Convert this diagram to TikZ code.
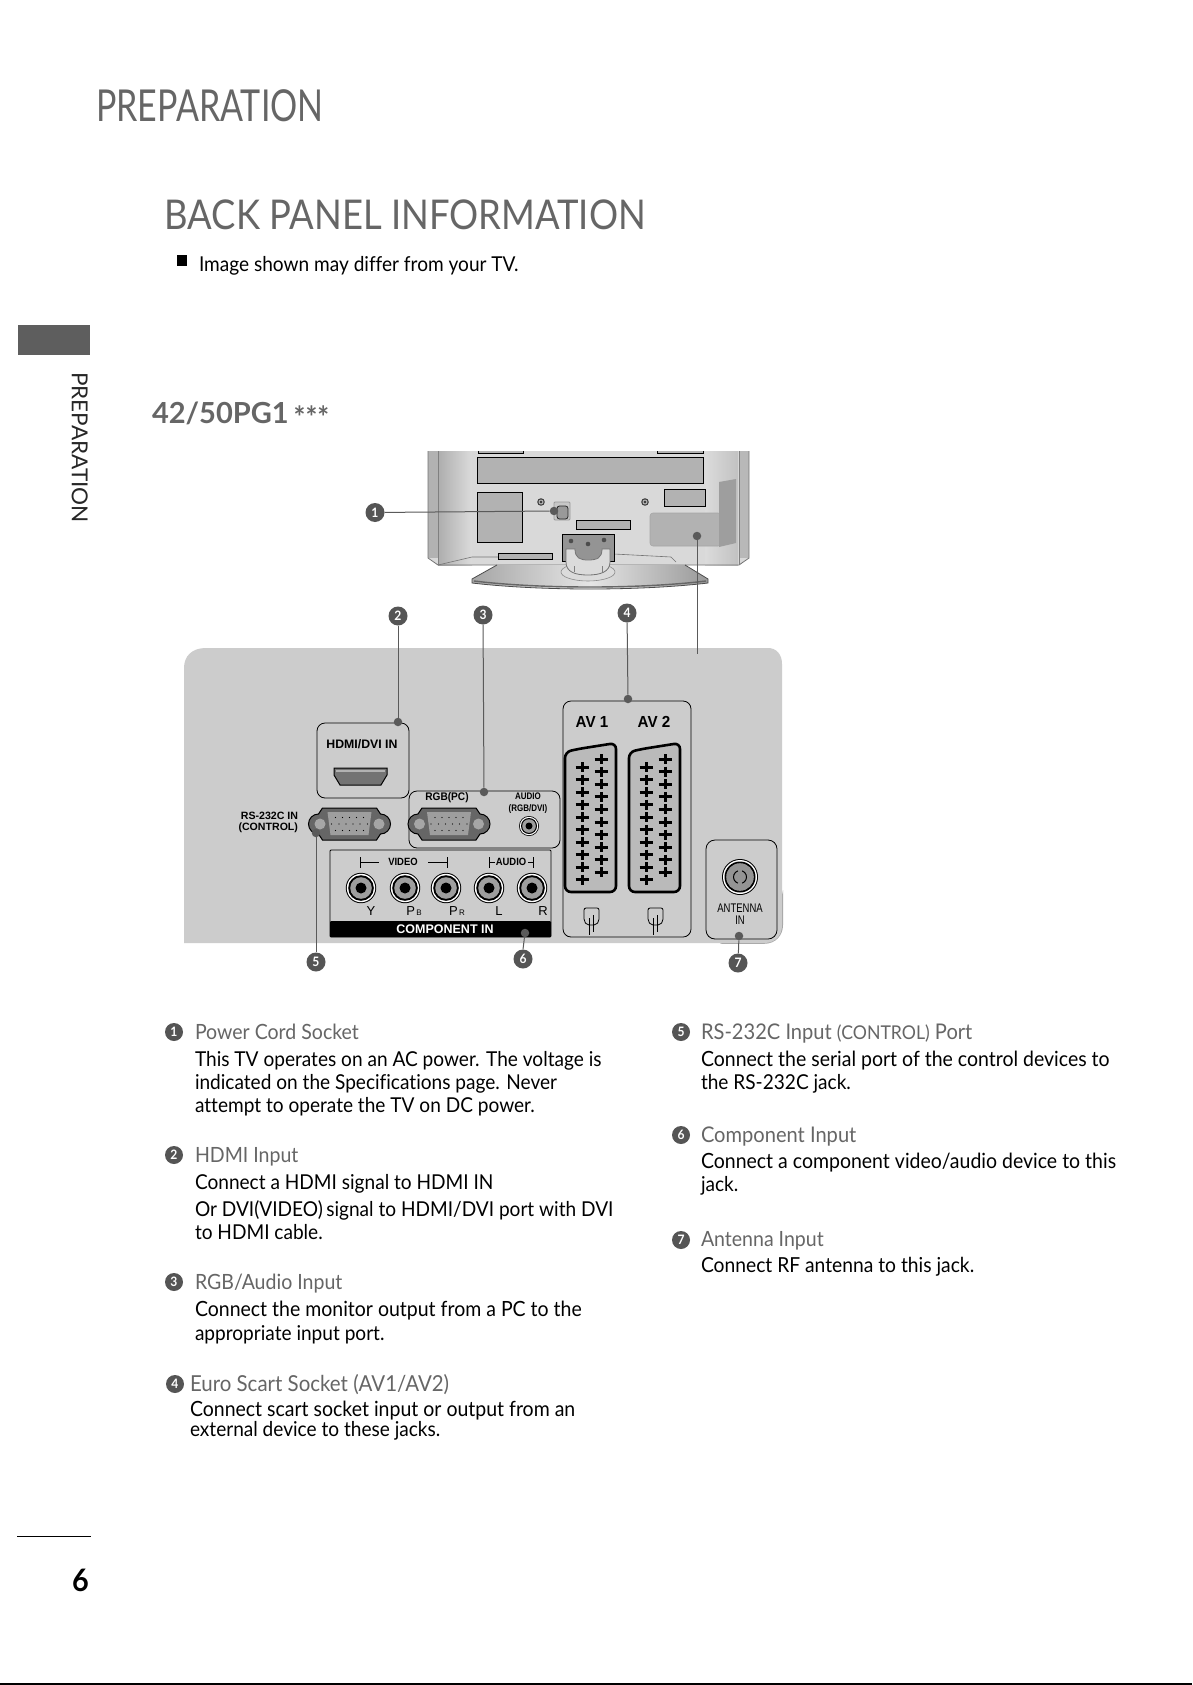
\documentclass[tikz,border=0pt]{standalone}
\usepackage{fontspec}
\usepackage{graphicx}
\setmainfont[FakeStretch=0.93,Ligatures=NoCommon]{Lato}
\newfontfamily\arialf{Liberation Sans}
\usetikzlibrary{calc}
\definecolor{panelg}{HTML}{CCCCCC}
\definecolor{headg}{HTML}{666666}
\definecolor{badgeg}{HTML}{555555}
\definecolor{leadg}{HTML}{5A5A5A}
\newcommand{\fs}[1]{\fontsize{#1}{#1}\selectfont}
\tikzset{
 x=1pt,y=-1pt,
 txt/.style={inner sep=0pt,outer sep=0pt,anchor=base west,text=black},
 bodyt/.style={txt,font=\fs{20.5}},
 bodyw/.style={txt,font=\fs{20.95}},
 headt/.style={txt,font=\fs{21},text=headg},
 headw/.style={txt,font=\fs{21.6},text=headg},
 badge/.style={circle,fill=badgeg,inner sep=0pt,minimum size=19pt,text=white,font=\fs{13}\bfseries},
 lbadge/.style={badge,minimum size=18pt},
 lead/.style={draw=leadg,line width=1pt},
 dot/.style={circle,fill=leadg,inner sep=0pt,minimum size=8.5pt},
 ptxt/.style={inner sep=0pt,outer sep=0pt,anchor=center,text=black,font=\arialf\bfseries\fs{10}},
 blk/.style={draw=black,line width=.9pt,fill=black!30},
}
\newcommand{\dbconn}[2]{%
 \begin{scope}[shift={(#1,#2)}]
 \draw[fill=black!60,line width=1pt] (-27,-16) -- (27,-16) -- (31,-10) arc (-90:90:10) -- (27,16) -- (-27,16) -- (-31,10) arc (90:270:10) -- cycle;
 \fill[black!38] (-22,-12) -- (22,-12) -- (19,11) -- (-19,11) -- cycle;
 \fill[black!35] (-29.5,0) circle (5.5pt) (29.5,0) circle (5.5pt);
 \foreach \px in {-14,-7,0,7,14} {\fill (\px,-6.5) circle (.6pt); \fill (\px,6.5) circle (.6pt);}
 \foreach \px in {-18,-10.5,-3.5,3.5,10.5,18} {\fill (\px,0) circle (.6pt);}
 \end{scope}}
\newcommand{\rcajack}[2]{%
 \fill[black] (#1,#2) circle (15.2pt);
 \fill[white] (#1,#2) circle (14.2pt);
 \fill[black] (#1,#2) circle (12.8pt);
 \fill[black!38] (#1,#2) circle (10.8pt);
 \fill[black] (#1,#2) circle (5.5pt);}
\newcommand{\scartsock}[1]{%
 \begin{scope}[xshift=#1]
 \draw[line width=2.6pt,fill=black!27,rounded corners=6pt] (565,752) -- (565,892) -- (616,892) -- (616,743) -- (578,749) -- cycle;
 \foreach \i in {0,...,9} {
  \pgfmathsetmacro{\ya}{767+12.5*\i}
  \pgfmathsetmacro{\yb}{759+12.6*\i}
  \draw[line width=3pt] (575.5,\ya) -- (588.5,\ya);
  \draw[line width=3pt] (582,\ya-5) -- (582,\ya+5);
  \draw[line width=3pt] (594.5,\yb) -- (607.5,\yb);
  \draw[line width=3pt] (601,\yb-5) -- (601,\yb+5);
 }
 \draw[line width=.8pt,fill=panelg,rounded corners=2pt] (584,908) -- (599,908) -- (599,921) -- (596,925) -- (587,925) -- (584,921) -- cycle;
 \draw[line width=1.3pt] (589.5,918) -- (589.5,935) (593.5,915) -- (593.5,932);
 \end{scope}}
\begin{document}
\begin{tikzpicture}
\useasboundingbox[fill=white] (0,0) rectangle (1192,1685);
% page furniture
\node[txt,text=headg,font=\fs{44}] (ttl) at (96,122) {\scalebox{.83}[1]{PREPARATION}};
\node[txt,text=headg,font=\fs{41}] (ttb) at (164.5,230) {\scalebox{.955}[1]{BACK PANEL INFORMATION}};
\fill[black] (177,255) rectangle (187,266);
\node[bodyt] (img) at (199,272) {Image shown may differ from your TV.};
\fill[black!63] (18,325) rectangle (90,355);
\node[inner sep=0pt,rotate=-90,anchor=north west,font=\fs{22},text=black!85] (side) at (88,372) {\scalebox{1.1}[1]{PREPARATION}};
\node[txt,text=headg,font=\fs{29}\bfseries] (mod) at (152,423) {\scalebox{1.077}[1]{42/50PG1}\,{\fs{30}\raisebox{-5pt}{***}}};
\draw[line width=1pt,black] (17,1536) -- (91,1536);
\node[txt,font=\fs{31}\bfseries] (pg) at (72,1591) {6};
\fill[black] (0,1683) rectangle (1192,1685);
% TV
\fill[black!15] (428,451) -- (749,451) -- (749,557) -- (739,565) -- (438,565) -- (428,557) -- cycle;
\shade[left color=black!32,right color=black!14] (438,451) rectangle (472,565);
\shade[left color=black!14,right color=black!24] (705,451) rectangle (738,565);
\fill[black!30] (428,451) rectangle (438,558);
\fill[black!28] (739,451) rectangle (749,558);
\draw[black!55,line width=.8pt] (428,451) -- (428,558) -- (438,565) -- (739,565) -- (749,558) -- (749,451);
\draw[black!50,line width=.6pt] (438,451) -- (438,565) (739,451) -- (739,565);
\draw[black!55,line width=.6pt] (438,565) -- (472,557) -- (552,557) (614,554) -- (671,557) -- (676,562);
\draw[black,line width=.9pt,fill=black!30] (478,451) -- (478,453) -- (523,453) -- (523,451);
\draw[black,line width=.9pt,fill=black!30] (657,451) -- (657,453) -- (703,453) -- (703,451);
\draw[blk] (477,457) rectangle (703,483);
\draw[blk] (477,492) rectangle (522,542);
\draw[blk] (664,489) rectangle (705,506);
\draw[blk] (576,520) rectangle (630,529);
\draw[blk] (498,553) rectangle (552,559);
\foreach \sx in {541,645} {\fill[black!75] (\sx,502) circle (3.8pt); \fill[black!30] (\sx,502) circle (2.5pt); \fill[black!80] (\sx,502) circle (1.3pt);}
\draw[black!40,line width=.8pt,fill=black!22,rounded corners=1pt] (554,502) rectangle (570,520);
\draw[black!85,line width=.8pt,fill=black!40,rounded corners=2.5pt] (557,506) rectangle (568,519);
\draw[black!35,line width=.6pt,fill=black!30,rounded corners=3pt] (650,513) rectangle (721,546);
\fill[black!38] (719,482) -- (736,479) -- (736,543) -- (719,547) -- cycle;
% stand
\shade[left color=black!35,right color=black!40,middle color=black!10] (497,565) -- (685,565) -- (708,579) -- (708,583) .. controls (640,591) and (540,591) .. (472,583) -- (472,579) -- cycle;
\draw[black!70,line width=.8pt] (497,565) -- (472,579) -- (472,583) .. controls (540,591) and (640,591) .. (708,583) -- (708,579) -- (685,565);
\draw[black!60,line width=1.4pt] (474,581) .. controls (540,589) and (640,589) .. (706,581);
\draw[black,line width=.9pt,fill=black!42] (562,534) rectangle (614,561);
\fill[black!70] (571,541) circle (2.3pt) (588,544) circle (2.3pt) (604,540) circle (2.3pt);
\draw[black!45,line width=.6pt,fill=black!14] (588,572) ellipse (27pt and 9pt);
\draw[black!55,line width=.8pt,fill=black!14] (566,549) -- (575,549) .. controls (575,558) and (580,560) .. (588,560) .. controls (597,560) and (602,558) .. (602,549) -- (610,549) -- (610,562) .. controls (610,572) and (600,575) .. (588,575) .. controls (575,575) and (566,572) .. (566,562) -- cycle;
\draw[black!50,line width=.6pt] (574,566) -- (574,572) (602,566) -- (602,572);
% panel
\fill[black!35] (720,943.8) -- (764,943.8) .. controls (776,943.8) and (783,935) .. (783,925) -- (783,890) -- (776,925) -- cycle;
\fill[panelg] (184,943) -- (184,668) .. controls (184,656) and (192,648) .. (206,648) -- (768,648) .. controls (776,648) and (782,654) .. (782,664) -- (782,925) .. controls (782,935) and (776,943) .. (764,943) -- cycle;
% port boxes
\node[draw=black,line width=.8pt,rounded corners=8pt,minimum width=92pt,minimum height=75pt,inner sep=0pt] (hdmi) at (363,760.5) {};
\node[draw=black,line width=.8pt,rounded corners=8pt,minimum width=151pt,minimum height=57pt,inner sep=0pt] (rgb) at (484.5,819.5) {};
\node[draw=black,line width=.8pt,rounded corners=8pt,minimum width=128pt,minimum height=236pt,inner sep=0pt] (av) at (627,819) {};
\node[draw=black,line width=.8pt,rounded corners=9pt,minimum width=71pt,minimum height=99pt,inner sep=0pt] (ant) at (741.5,889.5) {};
\node[draw=black,line width=.8pt,rounded corners=1pt,minimum width=221pt,minimum height=87pt,inner sep=0pt] (comp) at (440.5,893.5) {};
\fill[black,rounded corners=1pt] (330,921) rectangle (551,937);
\node[ptxt,text=white,font=\arialf\bfseries\fs{12.5}] (compt) at (445,929) {COMPONENT IN};
\node[ptxt] (hdmit) at (362,744) {\fs{12.3}HDMI/DVI IN};
\draw[line width=1pt,fill=black!55] (334,768) -- (387,768) -- (387,775) -- (381,785) -- (340,785) -- (334,775) -- cycle;
\fill[black!30] (336,769.5) rectangle (385,772);
\node[ptxt,align=right,anchor=east,font=\arialf\bfseries\fs{10.6}] (rst) at (298,822.5) {RS-232C IN\\[1pt](CONTROL)};
\dbconn{349.5}{824}
\dbconn{449}{824}
\node[ptxt,font=\arialf\bfseries\fs{11}] (rgbt) at (447,798) {\scalebox{.92}[1]{RGB(PC)}};
\node[ptxt,align=center,font=\arialf\bfseries\fs{9.5}] (audt) at (528,803) {\scalebox{.84}[1]{AUDIO}\\[2pt]\scalebox{.84}[1]{(RGB/DVI)}};
\fill[black] (529,826) circle (10pt); \fill[white] (529,826) circle (9.2pt); \fill[black] (529,826) circle (8pt); \fill[black!38] (529,826) circle (6.8pt); \fill[black] (529,826) circle (3.5pt);
\node[ptxt,font=\arialf\bfseries\fs{10.5}] (vid) at (403,862) {\scalebox{.9}[1]{VIDEO}};
\node[ptxt,font=\arialf\bfseries\fs{10.5}] (audc) at (511,862) {\scalebox{.9}[1]{AUDIO}};
\draw[line width=.8pt] (360,857) -- (360,868) (360,862) -- (379,862) (428,862) -- (447,862) (447,857) -- (447,868);
\draw[line width=.8pt] (489,857) -- (489,868) (489,862) -- (495,862) (528,862) -- (533,862) (533,857) -- (533,868);
\rcajack{361}{888}\rcajack{405}{888}\rcajack{446}{888}\rcajack{489}{888}\rcajack{532}{888}
\foreach \nm/\tx/\lx in {ly/Y/371,lb/{P{\fs{8}\,B}}/414,lr/{P{\fs{8}\,R}}/457,ll/L/499,lrr/R/543}
 {\node[ptxt,font=\arialf\fs{13}] (\nm) at (\lx,911) {\tx};}
\node[ptxt,font=\arialf\bfseries\fs{16}] (av1) at (592,722) {\scalebox{.95}[1]{AV 1}};
\node[ptxt,font=\arialf\bfseries\fs{16}] (av2) at (654,722) {\scalebox{.95}[1]{AV 2}};
\scartsock{0}\scartsock{64}
\fill[black] (740,877) circle (18pt); \fill[white] (740,877) circle (17pt); \fill[black] (740,877) circle (15.5pt); \fill[black!42] (740,877) circle (13.8pt);
\draw[black,line width=1pt] (740,877) ++(70:6.5) arc (70:-70:6.5);
\draw[black,line width=1pt] (740,877) ++(110:6.5) arc (110:250:6.5);
\node[ptxt,align=center,font=\arialf\fs{12.5}] (antt) at (740,914) {\scalebox{.76}[1]{ANTENNA}\\\scalebox{.76}[1]{IN}};
% numbered leaders
\node[badge] (n1) at (375,512.5) {1};
\node[badge] (n2) at (398,616) {2};
\node[badge] (n3) at (483,615) {3};
\node[badge] (n4) at (627,613) {4};
\node[badge] (n5) at (316,962) {5};
\node[badge] (n6) at (523,959) {6};
\node[badge] (n7) at (738,963) {7};
\node[dot] (d1) at (554,511) {};
\node[dot] (d2) at (398,722) {};
\node[dot] (d3) at (484,792) {};
\node[dot] (d4) at (628,699) {};
\node[dot] (d5) at (316,833) {};
\node[dot] (d6) at (525,933) {};
\node[dot] (d7) at (739,936) {};
\node[dot] (dp) at (697,536) {};
\coordinate (pe) at (697,654);
\draw[lead] (n1) -- (d1);
\draw[lead] (n2) -- (d2);
\draw[lead] (n3) -- (d3);
\draw[lead] (n4) -- (d4);
\draw[lead] (n5) -- (d5);
\draw[lead] (n6.north) -- (d6);
\draw[lead] (n7) -- (d7);
\draw[lead] (dp) -- (pe);
% left list
\node[lbadge] (l1) at (174,1032) {1};
\node[headt] (h1) at (195,1039) {Power Cord Socket};
\node[bodyt] (b1a) at (195,1066) {This TV operates on an AC power. The voltage is};
\node[bodyt] (b1b) at (195,1089) {indicated on the Specifications page. Never};
\node[bodyt] (b1c) at (195,1112) {attempt to operate the TV on DC power.};
\node[lbadge] (l2) at (174,1155) {2};
\node[headt] (h2) at (195,1162) {HDMI Input};
\node[bodyt] (b2a) at (195,1189) {Connect a HDMI signal to HDMI IN};
\node[bodyt] (b2b) at (195,1216.5) {Or DVI(VIDEO)\,signal to HDMI/DVI port with DVI};
\node[bodyt] (b2c) at (195,1239) {to HDMI cable.};
\node[lbadge] (l3) at (174,1282) {3};
\node[headt] (h3) at (195,1289) {RGB/Audio Input};
\node[bodyw] (b3a) at (195,1316) {Connect the monitor output from a PC to the};
\node[bodyt] (b3b) at (195,1340) {appropriate input port.};
\node[lbadge] (l4) at (175,1384) {4};
\node[headw,font=\fs{22}] (h4) at (190,1391) {Euro Scart Socket (AV1/AV2)};
\node[bodyw] (b4a) at (190,1416) {Connect scart socket input or output from an};
\node[bodyt] (b4b) at (190,1436) {external device to these jacks.};
% right list
\node[lbadge] (l5) at (681,1032) {5};
\node[headw] (h5) at (701,1039) {RS-232C Input {\fs{19}(CONTROL)} Port};
\node[bodyw] (b5a) at (701,1066) {Connect the serial port of the control devices to};
\node[bodyt] (b5b) at (701,1089) {the RS-232C jack.};
\node[lbadge] (l6) at (681,1135) {6};
\node[headw] (h6) at (701,1142) {Component Input};
\node[bodyw] (b6a) at (701,1168) {Connect a component video/audio device to this};
\node[bodyt] (b6b) at (701,1191) {jack.};
\node[lbadge] (l7) at (681,1240) {7};
\node[headt] (h7) at (701,1246) {Antenna Input};
\node[txt,font=\fs{20.7}] (b7a) at (701,1272) {Connect RF antenna to this jack.};
\end{tikzpicture}
\end{document}
